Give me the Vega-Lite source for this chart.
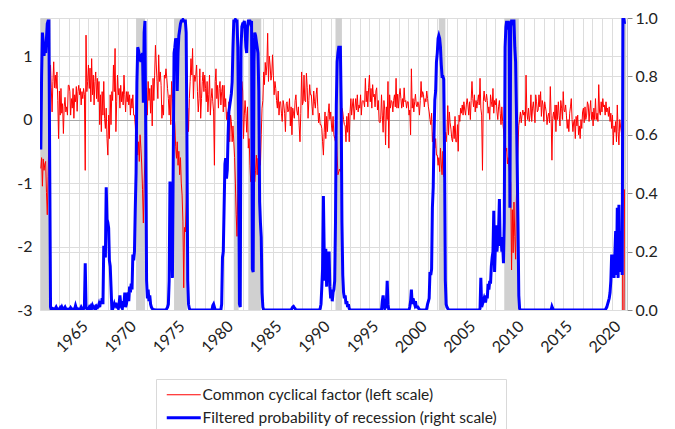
{
"$schema": "https://vega.github.io/schema/vega-lite/v6.json",
"width": 587, "height": 292,
"autosize": {"type": "none"},
"padding": {"left": 40, "top": 18, "right": 48, "bottom": 119},
"background": "white",
"config": {"view": {"stroke": null}, "font": "Lato", "axis": {"labelFont": "Lato", "labelColor": "#222222", "title": null}},
"datasets": {
"rec": [{"s":"1960-02-01","e":"1961-01-05"},{"s":"1969-12-01","e":"1970-11-01"},{"s":"1973-11-01","e":"1975-03-01"},{"s":"1980-01-01","e":"1980-07-01"},{"s":"1981-07-01","e":"1982-11-01"},{"s":"1990-07-01","e":"1991-03-01"},{"s":"2001-03-01","e":"2001-11-01"},{"s":"2007-12-01","e":"2009-06-01"},{"s":"2020-02-01","e":"2020-07-01"}],
"m": [
{"d":"1960-02","c":-0.77,"p":0.55},{"d":"1960-03","c":-0.6,"p":0.8},{"d":"1960-04","c":-1.05,"p":0.95},{"d":"1960-05","c":-0.62,"p":0.92},{"d":"1960-06","c":-0.8,"p":0.87},{"d":"1960-07","c":-0.7,"p":0.9},{"d":"1960-08","c":-0.66,"p":0.88},{"d":"1960-09","c":-1.15,"p":0.93},{"d":"1960-10","c":-1.5,"p":0.98},{"d":"1960-11","c":-0.9,"p":0.99},{"d":"1960-12","c":-0.3,"p":0.99},
{"d":"1961-01","c":0.3,"p":0.5},{"d":"1961-02","c":0.86,"p":0.01},{"d":"1961-03","c":0.5,"p":0},{"d":"1961-04","c":0.12,"p":0.002},{"d":"1961-05","c":0.6,"p":0.005},{"d":"1961-06","c":0.91,"p":0.003},{"d":"1961-07","c":0.5,"p":0.002},{"d":"1961-08","c":0.7,"p":0.005},{"d":"1961-09","c":0.49,"p":0.01},{"d":"1961-10","c":0.75,"p":0.004},{"d":"1961-11","c":0.3,"p":0.002},{"d":"1961-12","c":-0.3,"p":0.003},
{"d":"1962-01","c":0.45,"p":0.003},{"d":"1962-02","c":0.07,"p":0.008},{"d":"1962-03","c":0.49,"p":0.004},{"d":"1962-04","c":0.1,"p":0.01},{"d":"1962-05","c":0.25,"p":0.003},{"d":"1962-06","c":-0.22,"p":0.002},{"d":"1962-07","c":0.2,"p":0.006},{"d":"1962-08","c":0.35,"p":0.01},{"d":"1962-09","c":0.12,"p":0.004},{"d":"1962-10","c":0.2,"p":0.003},{"d":"1962-11","c":0.07,"p":0.002},{"d":"1962-12","c":0.54,"p":0.003},
{"d":"1963-01","c":0.54,"p":0.002},{"d":"1963-02","c":0.44,"p":0.003},{"d":"1963-03","c":0.07,"p":0.008},{"d":"1963-04","c":0.33,"p":0.004},{"d":"1963-05","c":0.18,"p":0.002},{"d":"1963-06","c":0.49,"p":0.003},{"d":"1963-07","c":0.02,"p":0.002},{"d":"1963-08","c":0.39,"p":0.004},{"d":"1963-09","c":0.28,"p":0.015},{"d":"1963-10","c":0.52,"p":0.006},{"d":"1963-11","c":0.13,"p":0.003},{"d":"1963-12","c":0.44,"p":0.004},
{"d":"1964-01","c":0.54,"p":0.003},{"d":"1964-02","c":0.39,"p":0.002},{"d":"1964-03","c":0.49,"p":0.004},{"d":"1964-04","c":0.23,"p":0.01},{"d":"1964-05","c":0.44,"p":0.005},{"d":"1964-06","c":0.33,"p":0.003},{"d":"1964-07","c":0.49,"p":0.004},{"d":"1964-08","c":0.39,"p":0.01},{"d":"1964-09","c":-0.8,"p":0.16},{"d":"1964-10","c":1.33,"p":0.01},{"d":"1964-11","c":0.44,"p":0.004},{"d":"1964-12","c":0.6,"p":0.003},
{"d":"1965-01","c":0.86,"p":0.004},{"d":"1965-02","c":0.49,"p":0.01},{"d":"1965-03","c":0.81,"p":0.006},{"d":"1965-04","c":0.28,"p":0.012},{"d":"1965-05","c":0.96,"p":0.005},{"d":"1965-06","c":0.39,"p":0.015},{"d":"1965-07","c":0.7,"p":0.008},{"d":"1965-08","c":0.23,"p":0.006},{"d":"1965-09","c":0.6,"p":0.01},{"d":"1965-10","c":0.75,"p":0.004},{"d":"1965-11","c":0.33,"p":0.012},{"d":"1965-12","c":0.65,"p":0.008},
{"d":"1966-01","c":0.28,"p":0.01},{"d":"1966-02","c":0.6,"p":0.02},{"d":"1966-03","c":-0.08,"p":0.01},{"d":"1966-04","c":0.39,"p":0.03},{"d":"1966-05","c":-0.19,"p":0.02},{"d":"1966-06","c":0.44,"p":0.04},{"d":"1966-07","c":0.07,"p":0.02},{"d":"1966-08","c":0.6,"p":0.22},{"d":"1966-09","c":0.02,"p":0.2},{"d":"1966-10","c":-0.14,"p":0.18},{"d":"1966-11","c":0.18,"p":0.42},{"d":"1966-12","c":-0.3,"p":0.31},
{"d":"1967-01","c":-0.56,"p":0.3},{"d":"1967-02","c":0.07,"p":0.28},{"d":"1967-03","c":-0.3,"p":0.17},{"d":"1967-04","c":0.39,"p":0.15},{"d":"1967-05","c":-0.08,"p":0.08},{"d":"1967-06","c":0.44,"p":0.004},{"d":"1967-07","c":0.3,"p":0.003},{"d":"1967-08","c":0.86,"p":0.01},{"d":"1967-09","c":0.44,"p":0.02},{"d":"1967-10","c":1.12,"p":0.01},{"d":"1967-11","c":-0.19,"p":0.025},{"d":"1967-12","c":0.28,"p":0.01},
{"d":"1968-01","c":0.7,"p":0.01},{"d":"1968-02","c":0.39,"p":0.005},{"d":"1968-03","c":0.49,"p":0.02},{"d":"1968-04","c":0.18,"p":0.05},{"d":"1968-05","c":0.54,"p":0.02},{"d":"1968-06","c":0.28,"p":0.01},{"d":"1968-07","c":0.44,"p":0.005},{"d":"1968-08","c":0.23,"p":0.03},{"d":"1968-09","c":0.7,"p":0.02},{"d":"1968-10","c":0.39,"p":0.06},{"d":"1968-11","c":0.12,"p":0.01},{"d":"1968-12","c":0.44,"p":0.02},
{"d":"1969-01","c":0.28,"p":0.04},{"d":"1969-02","c":0.44,"p":0.06},{"d":"1969-03","c":0.23,"p":0.03},{"d":"1969-04","c":0.39,"p":0.08},{"d":"1969-05","c":0.07,"p":0.06},{"d":"1969-06","c":0.33,"p":0.09},{"d":"1969-07","c":0.18,"p":0.07},{"d":"1969-08","c":0.39,"p":0.19},{"d":"1969-09","c":0.07,"p":0.17},{"d":"1969-10","c":0.07,"p":0.2},{"d":"1969-11","c":-0.1,"p":0.35},{"d":"1969-12","c":-0.35,"p":0.47},
{"d":"1970-01","c":-0.19,"p":0.78},{"d":"1970-02","c":-0.56,"p":0.9},{"d":"1970-03","c":-0.35,"p":0.89},{"d":"1970-04","c":-0.66,"p":0.87},{"d":"1970-05","c":-0.24,"p":0.86},{"d":"1970-06","c":-0.45,"p":0.85},{"d":"1970-07","c":-0.7,"p":0.87},{"d":"1970-08","c":-1.1,"p":0.88},{"d":"1970-09","c":-1.63,"p":0.71},{"d":"1970-10","c":-1.0,"p":0.95},{"d":"1970-11","c":-0.6,"p":0.99},{"d":"1970-12","c":0.2,"p":0.6},
{"d":"1971-01","c":0.5,"p":0.1},{"d":"1971-02","c":0.07,"p":0.04},{"d":"1971-03","c":0.6,"p":0.07},{"d":"1971-04","c":0.3,"p":0.03},{"d":"1971-05","c":0.49,"p":0.05},{"d":"1971-06","c":0.1,"p":0.02},{"d":"1971-07","c":0.54,"p":0.01},{"d":"1971-08","c":-0.1,"p":0.005},{"d":"1971-09","c":0.65,"p":0.002},{"d":"1971-10","c":0.3,"p":0.001},{"d":"1971-11","c":0.7,"p":0.001},{"d":"1971-12","c":1.17,"p":0},
{"d":"1972-01","c":0.86,"p":0},{"d":"1972-02","c":0.6,"p":0},{"d":"1972-03","c":0.33,"p":0},{"d":"1972-04","c":1.02,"p":0},{"d":"1972-05","c":0.6,"p":0},{"d":"1972-06","c":0.75,"p":0},{"d":"1972-07","c":0.54,"p":0},{"d":"1972-08","c":0.02,"p":0},{"d":"1972-09","c":0.23,"p":0},{"d":"1972-10","c":0.07,"p":0},{"d":"1972-11","c":0.7,"p":0},{"d":"1972-12","c":0.65,"p":0},
{"d":"1973-01","c":0.8,"p":0},{"d":"1973-02","c":0.65,"p":0.005},{"d":"1973-03","c":0.49,"p":0.01},{"d":"1973-04","c":0.33,"p":0.02},{"d":"1973-05","c":0.07,"p":0.1},{"d":"1973-06","c":0.39,"p":0.44},{"d":"1973-07","c":-0.08,"p":0.4},{"d":"1973-08","c":0.6,"p":0.25},{"d":"1973-09","c":0.33,"p":0.11},{"d":"1973-10","c":0.18,"p":0.5},{"d":"1973-11","c":0.07,"p":0.88},{"d":"1973-12","c":-0.08,"p":0.9},
{"d":"1974-01","c":-0.43,"p":0.93},{"d":"1974-02","c":-0.61,"p":0.92},{"d":"1974-03","c":-0.35,"p":0.75},{"d":"1974-04","c":-0.72,"p":0.88},{"d":"1974-05","c":-0.5,"p":0.94},{"d":"1974-06","c":-0.87,"p":0.96},{"d":"1974-07","c":-0.6,"p":0.98},{"d":"1974-08","c":-1.0,"p":0.99},{"d":"1974-09","c":-1.19,"p":0.99},{"d":"1974-10","c":-1.6,"p":0.995},{"d":"1974-11","c":-2.65,"p":0.99},{"d":"1974-12","c":-1.7,"p":0.99},
{"d":"1975-01","c":-1.77,"p":0.99},{"d":"1975-02","c":-1.3,"p":0.95},{"d":"1975-03","c":-0.5,"p":0.6},{"d":"1975-04","c":0.18,"p":0.1},{"d":"1975-05","c":-0.19,"p":0.02},{"d":"1975-06","c":0.33,"p":0.005},{"d":"1975-07","c":0.6,"p":0},{"d":"1975-08","c":0.96,"p":0},{"d":"1975-09","c":0.7,"p":0},{"d":"1975-10","c":1.12,"p":0},{"d":"1975-11","c":0.33,"p":0},{"d":"1975-12","c":0.7,"p":0},
{"d":"1976-01","c":0.6,"p":0},{"d":"1976-02","c":0.7,"p":0},{"d":"1976-03","c":0.86,"p":0},{"d":"1976-04","c":0.44,"p":0},{"d":"1976-05","c":0.12,"p":0},{"d":"1976-06","c":0.33,"p":0},{"d":"1976-07","c":0.8,"p":0},{"d":"1976-08","c":0.02,"p":0},{"d":"1976-09","c":0.33,"p":0},{"d":"1976-10","c":0.6,"p":0},{"d":"1976-11","c":0.75,"p":0},{"d":"1976-12","c":0.44,"p":0},
{"d":"1977-01","c":0.7,"p":0},{"d":"1977-02","c":0.49,"p":0},{"d":"1977-03","c":0.28,"p":0},{"d":"1977-04","c":0.6,"p":0},{"d":"1977-05","c":0.12,"p":0},{"d":"1977-06","c":0.39,"p":0},{"d":"1977-07","c":0.7,"p":0},{"d":"1977-08","c":0.07,"p":0},{"d":"1977-09","c":0.33,"p":0},{"d":"1977-10","c":0.49,"p":0},{"d":"1977-11","c":0.28,"p":0.015},{"d":"1977-12","c":0.12,"p":0.02},
{"d":"1978-01","c":-0.72,"p":0.01},{"d":"1978-02","c":0.6,"p":0},{"d":"1978-03","c":0.8,"p":0},{"d":"1978-04","c":0.33,"p":0},{"d":"1978-05","c":0.54,"p":0},{"d":"1978-06","c":0.18,"p":0},{"d":"1978-07","c":0.49,"p":0},{"d":"1978-08","c":0.6,"p":0},{"d":"1978-09","c":0.23,"p":0},{"d":"1978-10","c":0.44,"p":0.02},{"d":"1978-11","c":0.54,"p":0.18},{"d":"1978-12","c":0.12,"p":0.2},
{"d":"1979-01","c":0.54,"p":0.35},{"d":"1979-02","c":0.2,"p":0.5},{"d":"1979-03","c":0.33,"p":0.52},{"d":"1979-04","c":0.0,"p":0.45},{"d":"1979-05","c":0.12,"p":0.48},{"d":"1979-06","c":-0.03,"p":0.6},{"d":"1979-07","c":0.28,"p":0.68},{"d":"1979-08","c":-0.35,"p":0.7},{"d":"1979-09","c":0.07,"p":0.72},{"d":"1979-10","c":-0.03,"p":0.74},{"d":"1979-11","c":-0.35,"p":0.78},{"d":"1979-12","c":-0.1,"p":0.9},
{"d":"1980-01","c":-0.35,"p":0.99},{"d":"1980-02","c":-0.6,"p":0.99},{"d":"1980-03","c":-1.0,"p":0.995},{"d":"1980-04","c":-1.5,"p":0.99},{"d":"1980-05","c":-1.84,"p":0.99},{"d":"1980-06","c":-1.1,"p":0.9},{"d":"1980-07","c":-0.45,"p":0.6},{"d":"1980-08","c":0.2,"p":0.02},{"d":"1980-09","c":0.91,"p":0.01},{"d":"1980-10","c":0.3,"p":0.9},{"d":"1980-11","c":0.6,"p":0.97},{"d":"1980-12","c":0.45,"p":0.98},
{"d":"1981-01","c":-0.3,"p":0.98},{"d":"1981-02","c":0.07,"p":0.99},{"d":"1981-03","c":0.3,"p":0.96},{"d":"1981-04","c":0.1,"p":0.9},{"d":"1981-05","c":-0.2,"p":0.88},{"d":"1981-06","c":0.2,"p":0.97},{"d":"1981-07","c":-0.45,"p":0.99},{"d":"1981-08","c":-0.3,"p":0.99},{"d":"1981-09","c":-0.72,"p":0.99},{"d":"1981-10","c":-0.98,"p":0.98},{"d":"1981-11","c":-0.85,"p":0.99},{"d":"1981-12","c":-0.95,"p":0.14},
{"d":"1982-01","c":-1.1,"p":0.13},{"d":"1982-02","c":-0.75,"p":0.85},{"d":"1982-03","c":-0.98,"p":0.95},{"d":"1982-04","c":-0.8,"p":0.94},{"d":"1982-05","c":-0.56,"p":0.92},{"d":"1982-06","c":-0.87,"p":0.9},{"d":"1982-07","c":-0.61,"p":0.88},{"d":"1982-08","c":-0.92,"p":0.75},{"d":"1982-09","c":-0.45,"p":0.37},{"d":"1982-10","c":-0.72,"p":0.3},{"d":"1982-11","c":-0.24,"p":0.25},{"d":"1982-12","c":0.18,"p":0.06},
{"d":"1983-01","c":0.3,"p":0.01},{"d":"1983-02","c":0.75,"p":0},{"d":"1983-03","c":0.55,"p":0},{"d":"1983-04","c":0.9,"p":0},{"d":"1983-05","c":0.7,"p":0},{"d":"1983-06","c":0.86,"p":0},{"d":"1983-07","c":1.36,"p":0},{"d":"1983-08","c":0.6,"p":0},{"d":"1983-09","c":1.0,"p":0},{"d":"1983-10","c":0.86,"p":0},{"d":"1983-11","c":0.62,"p":0},{"d":"1983-12","c":0.7,"p":0},
{"d":"1984-01","c":1.02,"p":0},{"d":"1984-02","c":0.7,"p":0},{"d":"1984-03","c":0.39,"p":0},{"d":"1984-04","c":0.6,"p":0},{"d":"1984-05","c":0.49,"p":0},{"d":"1984-06","c":0.3,"p":0},{"d":"1984-07","c":0.18,"p":0},{"d":"1984-08","c":0.45,"p":0},{"d":"1984-09","c":0.07,"p":0},{"d":"1984-10","c":0.28,"p":0},{"d":"1984-11","c":0.28,"p":0},{"d":"1984-12","c":0.1,"p":0},
{"d":"1985-01","c":-0.03,"p":0},{"d":"1985-02","c":0.3,"p":0},{"d":"1985-03","c":0.23,"p":0},{"d":"1985-04","c":0.1,"p":0},{"d":"1985-05","c":-0.19,"p":0},{"d":"1985-06","c":0.25,"p":0},{"d":"1985-07","c":0.28,"p":0},{"d":"1985-08","c":0.12,"p":0},{"d":"1985-09","c":0.15,"p":0},{"d":"1985-10","c":0.33,"p":0},{"d":"1985-11","c":-0.1,"p":0},{"d":"1985-12","c":0.2,"p":0},
{"d":"1986-01","c":-0.24,"p":0.005},{"d":"1986-02","c":0.18,"p":0.01},{"d":"1986-03","c":0.1,"p":0.012},{"d":"1986-04","c":0.02,"p":0.008},{"d":"1986-05","c":0.3,"p":0.005},{"d":"1986-06","c":0.39,"p":0},{"d":"1986-07","c":0.15,"p":0},{"d":"1986-08","c":0.07,"p":0},{"d":"1986-09","c":0.2,"p":0},{"d":"1986-10","c":-0.1,"p":0},{"d":"1986-11","c":-0.35,"p":0},{"d":"1986-12","c":0.1,"p":0},
{"d":"1987-01","c":0.75,"p":0},{"d":"1987-02","c":0.23,"p":0},{"d":"1987-03","c":0.28,"p":0},{"d":"1987-04","c":0.7,"p":0},{"d":"1987-05","c":0.3,"p":0},{"d":"1987-06","c":0.28,"p":0},{"d":"1987-07","c":0.73,"p":0},{"d":"1987-08","c":0.5,"p":0},{"d":"1987-09","c":0.02,"p":0},{"d":"1987-10","c":0.3,"p":0},{"d":"1987-11","c":0.55,"p":0},{"d":"1987-12","c":0.39,"p":0},
{"d":"1988-01","c":0.39,"p":0},{"d":"1988-02","c":0.2,"p":0},{"d":"1988-03","c":0.07,"p":0},{"d":"1988-04","c":0.45,"p":0},{"d":"1988-05","c":0.28,"p":0},{"d":"1988-06","c":0.18,"p":0},{"d":"1988-07","c":0.39,"p":0},{"d":"1988-08","c":0.5,"p":0},{"d":"1988-09","c":0.2,"p":0},{"d":"1988-10","c":-0.05,"p":0},{"d":"1988-11","c":0.1,"p":0},{"d":"1988-12","c":-0.08,"p":0.005},
{"d":"1989-01","c":-0.08,"p":0.02},{"d":"1989-02","c":-0.14,"p":0.08},{"d":"1989-03","c":-0.35,"p":0.14},{"d":"1989-04","c":-0.56,"p":0.39},{"d":"1989-05","c":-0.2,"p":0.2},{"d":"1989-06","c":0.12,"p":0.1},{"d":"1989-07","c":-0.3,"p":0.21},{"d":"1989-08","c":0.05,"p":0.08},{"d":"1989-09","c":-0.19,"p":0.2},{"d":"1989-10","c":0.1,"p":0.1},{"d":"1989-11","c":0.25,"p":0.2},{"d":"1989-12","c":0.0,"p":0.08},
{"d":"1990-01","c":0.12,"p":0.04},{"d":"1990-02","c":-0.1,"p":0.07},{"d":"1990-03","c":-0.19,"p":0.03},{"d":"1990-04","c":0.05,"p":0.06},{"d":"1990-05","c":-0.24,"p":0.07},{"d":"1990-06","c":-0.3,"p":0.1},{"d":"1990-07","c":-0.35,"p":0.3},{"d":"1990-08","c":-0.2,"p":0.7},{"d":"1990-09","c":-0.56,"p":0.85},{"d":"1990-10","c":-0.87,"p":0.88},{"d":"1990-11","c":-0.82,"p":0.9},{"d":"1990-12","c":-0.78,"p":0.9},
{"d":"1991-01","c":-0.82,"p":0.9},{"d":"1991-02","c":-0.7,"p":0.7},{"d":"1991-03","c":0.18,"p":0.3},{"d":"1991-04","c":0.12,"p":0.12},{"d":"1991-05","c":0.0,"p":0.06},{"d":"1991-06","c":-0.08,"p":0.04},{"d":"1991-07","c":-0.1,"p":0.05},{"d":"1991-08","c":-0.35,"p":0.02},{"d":"1991-09","c":0.05,"p":0.03},{"d":"1991-10","c":-0.2,"p":0.01},{"d":"1991-11","c":0.1,"p":0.02},{"d":"1991-12","c":-0.35,"p":0.005},
{"d":"1992-01","c":0.12,"p":0},{"d":"1992-02","c":0.33,"p":0},{"d":"1992-03","c":0.07,"p":0},{"d":"1992-04","c":0.23,"p":0},{"d":"1992-05","c":0.33,"p":0},{"d":"1992-06","c":0.0,"p":0},{"d":"1992-07","c":0.18,"p":0},{"d":"1992-08","c":0.33,"p":0},{"d":"1992-09","c":0.15,"p":0},{"d":"1992-10","c":0.39,"p":0},{"d":"1992-11","c":0.12,"p":0},{"d":"1992-12","c":0.23,"p":0},
{"d":"1993-01","c":0.18,"p":0},{"d":"1993-02","c":0.39,"p":0},{"d":"1993-03","c":0.07,"p":0},{"d":"1993-04","c":0.28,"p":0},{"d":"1993-05","c":0.3,"p":0},{"d":"1993-06","c":0.28,"p":0},{"d":"1993-07","c":0.2,"p":0},{"d":"1993-08","c":0.65,"p":0},{"d":"1993-09","c":0.28,"p":0},{"d":"1993-10","c":0.45,"p":0},{"d":"1993-11","c":0.2,"p":0},{"d":"1993-12","c":0.5,"p":0},
{"d":"1994-01","c":0.7,"p":0},{"d":"1994-02","c":0.28,"p":0},{"d":"1994-03","c":0.49,"p":0},{"d":"1994-04","c":0.18,"p":0},{"d":"1994-05","c":0.55,"p":0},{"d":"1994-06","c":0.36,"p":0},{"d":"1994-07","c":0.4,"p":0},{"d":"1994-08","c":0.2,"p":0},{"d":"1994-09","c":0.45,"p":0},{"d":"1994-10","c":0.5,"p":0},{"d":"1994-11","c":0.15,"p":0},{"d":"1994-12","c":0.3,"p":0},
{"d":"1995-01","c":-0.03,"p":0},{"d":"1995-02","c":-0.05,"p":0},{"d":"1995-03","c":0.0,"p":0},{"d":"1995-04","c":0.39,"p":0},{"d":"1995-05","c":0.07,"p":0.03},{"d":"1995-06","c":-0.2,"p":0.05},{"d":"1995-07","c":0.3,"p":0.02},{"d":"1995-08","c":0.15,"p":0.005},{"d":"1995-09","c":-0.4,"p":0.01},{"d":"1995-10","c":0.2,"p":0.02},{"d":"1995-11","c":0.0,"p":0.1},{"d":"1995-12","c":0.6,"p":0.02},
{"d":"1996-01","c":-0.45,"p":0},{"d":"1996-02","c":0.39,"p":0},{"d":"1996-03","c":0.18,"p":0},{"d":"1996-04","c":0.3,"p":0},{"d":"1996-05","c":0.28,"p":0},{"d":"1996-06","c":0.12,"p":0},{"d":"1996-07","c":0.3,"p":0},{"d":"1996-08","c":0.39,"p":0},{"d":"1996-09","c":0.2,"p":0},{"d":"1996-10","c":0.65,"p":0},{"d":"1996-11","c":0.18,"p":0},{"d":"1996-12","c":0.4,"p":0},
{"d":"1997-01","c":0.18,"p":0},{"d":"1997-02","c":0.39,"p":0},{"d":"1997-03","c":0.49,"p":0},{"d":"1997-04","c":0.33,"p":0},{"d":"1997-05","c":0.18,"p":0},{"d":"1997-06","c":0.33,"p":0},{"d":"1997-07","c":0.2,"p":0},{"d":"1997-08","c":0.5,"p":0},{"d":"1997-09","c":0.28,"p":0},{"d":"1997-10","c":0.3,"p":0},{"d":"1997-11","c":0.18,"p":0},{"d":"1997-12","c":0.28,"p":0},
{"d":"1998-01","c":0.28,"p":0},{"d":"1998-02","c":0.07,"p":0},{"d":"1998-03","c":0.15,"p":0.01},{"d":"1998-04","c":-0.24,"p":0.03},{"d":"1998-05","c":0.8,"p":0.07},{"d":"1998-06","c":0.18,"p":0.02},{"d":"1998-07","c":0.33,"p":0.04},{"d":"1998-08","c":0.12,"p":0.03},{"d":"1998-09","c":0.28,"p":0.02},{"d":"1998-10","c":0.4,"p":0.03},{"d":"1998-11","c":0.23,"p":0.01},{"d":"1998-12","c":0.2,"p":0.01},
{"d":"1999-01","c":0.28,"p":0.01},{"d":"1999-02","c":0.23,"p":0.005},{"d":"1999-03","c":0.07,"p":0.002},{"d":"1999-04","c":0.3,"p":0},{"d":"1999-05","c":0.6,"p":0},{"d":"1999-06","c":0.35,"p":0},{"d":"1999-07","c":0.44,"p":0},{"d":"1999-08","c":0.39,"p":0},{"d":"1999-09","c":0.2,"p":0},{"d":"1999-10","c":0.33,"p":0},{"d":"1999-11","c":0.28,"p":0},{"d":"1999-12","c":0.45,"p":0.005},
{"d":"2000-01","c":0.33,"p":0.02},{"d":"2000-02","c":0.2,"p":0.03},{"d":"2000-03","c":0.12,"p":0.04},{"d":"2000-04","c":0.0,"p":0.13},{"d":"2000-05","c":-0.08,"p":0.12},{"d":"2000-06","c":0.1,"p":0.14},{"d":"2000-07","c":-0.35,"p":0.35},{"d":"2000-08","c":-0.2,"p":0.42},{"d":"2000-09","c":-0.19,"p":0.6},{"d":"2000-10","c":-0.45,"p":0.72},{"d":"2000-11","c":-0.3,"p":0.75},{"d":"2000-12","c":-0.56,"p":0.85},
{"d":"2001-01","c":-0.56,"p":0.88},{"d":"2001-02","c":-0.72,"p":0.93},{"d":"2001-03","c":-0.6,"p":0.94},{"d":"2001-04","c":-0.82,"p":0.93},{"d":"2001-05","c":-0.45,"p":0.9},{"d":"2001-06","c":-0.7,"p":0.84},{"d":"2001-07","c":-0.87,"p":0.8},{"d":"2001-08","c":-0.5,"p":0.8},{"d":"2001-09","c":-0.9,"p":0.79},{"d":"2001-10","c":-0.6,"p":0.55},{"d":"2001-11","c":-0.2,"p":0.1},{"d":"2001-12","c":-0.35,"p":0.02},
{"d":"2002-01","c":-0.19,"p":0.01},{"d":"2002-02","c":0.22,"p":0.005},{"d":"2002-03","c":-0.24,"p":0},{"d":"2002-04","c":0.12,"p":0},{"d":"2002-05","c":-0.05,"p":0},{"d":"2002-06","c":-0.15,"p":0},{"d":"2002-07","c":-0.3,"p":0},{"d":"2002-08","c":-0.35,"p":0},{"d":"2002-09","c":-0.1,"p":0},{"d":"2002-10","c":-0.3,"p":0},{"d":"2002-11","c":0.05,"p":0},{"d":"2002-12","c":-0.35,"p":0},
{"d":"2003-01","c":-0.35,"p":0},{"d":"2003-02","c":-0.08,"p":0},{"d":"2003-03","c":-0.5,"p":0},{"d":"2003-04","c":0.07,"p":0},{"d":"2003-05","c":-0.03,"p":0},{"d":"2003-06","c":0.18,"p":0},{"d":"2003-07","c":0.1,"p":0},{"d":"2003-08","c":0.23,"p":0},{"d":"2003-09","c":0.07,"p":0},{"d":"2003-10","c":0.28,"p":0},{"d":"2003-11","c":0.15,"p":0},{"d":"2003-12","c":0.07,"p":0},
{"d":"2004-01","c":0.23,"p":0},{"d":"2004-02","c":0.33,"p":0},{"d":"2004-03","c":0.23,"p":0},{"d":"2004-04","c":0.07,"p":0},{"d":"2004-05","c":0.28,"p":0},{"d":"2004-06","c":0.0,"p":0},{"d":"2004-07","c":0.3,"p":0},{"d":"2004-08","c":0.6,"p":0},{"d":"2004-09","c":0.33,"p":0},{"d":"2004-10","c":0.2,"p":0},{"d":"2004-11","c":0.39,"p":0},{"d":"2004-12","c":0.12,"p":0},
{"d":"2005-01","c":0.3,"p":0},{"d":"2005-02","c":0.18,"p":0},{"d":"2005-03","c":0.28,"p":0},{"d":"2005-04","c":0.39,"p":0},{"d":"2005-05","c":0.23,"p":0},{"d":"2005-06","c":0.65,"p":0.005},{"d":"2005-07","c":0.18,"p":0.11},{"d":"2005-08","c":0.07,"p":0.01},{"d":"2005-09","c":-0.8,"p":0.02},{"d":"2005-10","c":0.28,"p":0.03},{"d":"2005-11","c":0.45,"p":0.04},{"d":"2005-12","c":0.3,"p":0.03},
{"d":"2006-01","c":0.28,"p":0.03},{"d":"2006-02","c":0.4,"p":0.05},{"d":"2006-03","c":0.3,"p":0.04},{"d":"2006-04","c":0.1,"p":0.09},{"d":"2006-05","c":0.2,"p":0.07},{"d":"2006-06","c":0.0,"p":0.1},{"d":"2006-07","c":0.39,"p":0.09},{"d":"2006-08","c":0.28,"p":0.15},{"d":"2006-09","c":0.2,"p":0.18},{"d":"2006-10","c":0.49,"p":0.2},{"d":"2006-11","c":0.1,"p":0.34},{"d":"2006-12","c":0.3,"p":0.13},
{"d":"2007-01","c":0.23,"p":0.22},{"d":"2007-02","c":0.33,"p":0.29},{"d":"2007-03","c":0.12,"p":0.2},{"d":"2007-04","c":0.0,"p":0.24},{"d":"2007-05","c":0.2,"p":0.27},{"d":"2007-06","c":0.3,"p":0.38},{"d":"2007-07","c":0.1,"p":0.22},{"d":"2007-08","c":-0.08,"p":0.25},{"d":"2007-09","c":0.2,"p":0.2},{"d":"2007-10","c":-0.03,"p":0.23},{"d":"2007-11","c":-0.15,"p":0.16},{"d":"2007-12","c":-0.3,"p":0.3},
{"d":"2008-01","c":-0.3,"p":0.9},{"d":"2008-02","c":-0.5,"p":0.97},{"d":"2008-03","c":-0.45,"p":0.99},{"d":"2008-04","c":-0.7,"p":0.96},{"d":"2008-05","c":-0.6,"p":0.99},{"d":"2008-06","c":-0.75,"p":0.97},{"d":"2008-07","c":-0.9,"p":0.35},{"d":"2008-08","c":-1.0,"p":0.97},{"d":"2008-09","c":-2.37,"p":0.99},{"d":"2008-10","c":-1.42,"p":0.99},{"d":"2008-11","c":-2.1,"p":0.99},{"d":"2008-12","c":-1.3,"p":0.99},
{"d":"2009-01","c":-1.84,"p":0.9},{"d":"2009-02","c":-2.2,"p":0.85},{"d":"2009-03","c":-1.27,"p":0.7},{"d":"2009-04","c":-0.79,"p":0.5},{"d":"2009-05","c":-0.45,"p":0.3},{"d":"2009-06","c":-0.09,"p":0.05},{"d":"2009-07","c":0.0,"p":0.005},{"d":"2009-08","c":0.12,"p":0},{"d":"2009-09","c":-0.05,"p":0},{"d":"2009-10","c":0.07,"p":0},{"d":"2009-11","c":0.15,"p":0},{"d":"2009-12","c":0.07,"p":0},
{"d":"2010-01","c":0.12,"p":0},{"d":"2010-02","c":-0.1,"p":0},{"d":"2010-03","c":0.7,"p":0},{"d":"2010-04","c":0.12,"p":0},{"d":"2010-05","c":0.0,"p":0},{"d":"2010-06","c":0.18,"p":0},{"d":"2010-07","c":-0.03,"p":0},{"d":"2010-08","c":0.07,"p":0},{"d":"2010-09","c":0.39,"p":0},{"d":"2010-10","c":-0.03,"p":0},{"d":"2010-11","c":0.18,"p":0},{"d":"2010-12","c":0.28,"p":0},
{"d":"2011-01","c":0.12,"p":0},{"d":"2011-02","c":-0.05,"p":0},{"d":"2011-03","c":0.39,"p":0},{"d":"2011-04","c":0.28,"p":0},{"d":"2011-05","c":0.12,"p":0},{"d":"2011-06","c":0.15,"p":0},{"d":"2011-07","c":0.39,"p":0},{"d":"2011-08","c":0.2,"p":0},{"d":"2011-09","c":0.44,"p":0},{"d":"2011-10","c":0.05,"p":0},{"d":"2011-11","c":0.3,"p":0},{"d":"2011-12","c":0.23,"p":0},
{"d":"2012-01","c":-0.03,"p":0},{"d":"2012-02","c":0.28,"p":0},{"d":"2012-03","c":0.2,"p":0},{"d":"2012-04","c":0.12,"p":0},{"d":"2012-05","c":-0.08,"p":0},{"d":"2012-06","c":0.05,"p":0},{"d":"2012-07","c":0.1,"p":0},{"d":"2012-08","c":-0.05,"p":0},{"d":"2012-09","c":0.52,"p":0},{"d":"2012-10","c":0.07,"p":0},{"d":"2012-11","c":-0.64,"p":0.012},{"d":"2012-12","c":0.02,"p":0.005},
{"d":"2013-01","c":0.12,"p":0},{"d":"2013-02","c":0.0,"p":0},{"d":"2013-03","c":0.23,"p":0},{"d":"2013-04","c":-0.19,"p":0},{"d":"2013-05","c":0.23,"p":0},{"d":"2013-06","c":0.0,"p":0},{"d":"2013-07","c":0.28,"p":0},{"d":"2013-08","c":0.07,"p":0},{"d":"2013-09","c":-0.1,"p":0},{"d":"2013-10","c":0.3,"p":0},{"d":"2013-11","c":0.18,"p":0},{"d":"2013-12","c":0.0,"p":0},
{"d":"2014-01","c":0.44,"p":0},{"d":"2014-02","c":0.15,"p":0},{"d":"2014-03","c":0.12,"p":0},{"d":"2014-04","c":0.23,"p":0},{"d":"2014-05","c":0.07,"p":0},{"d":"2014-06","c":-0.14,"p":0},{"d":"2014-07","c":0.0,"p":0},{"d":"2014-08","c":-0.19,"p":0},{"d":"2014-09","c":0.1,"p":0},{"d":"2014-10","c":0.2,"p":0},{"d":"2014-11","c":0.33,"p":0},{"d":"2014-12","c":0.0,"p":0},
{"d":"2015-01","c":-0.19,"p":0},{"d":"2015-02","c":-0.03,"p":0},{"d":"2015-03","c":0.0,"p":0},{"d":"2015-04","c":-0.3,"p":0},{"d":"2015-05","c":0.05,"p":0},{"d":"2015-06","c":-0.1,"p":0},{"d":"2015-07","c":0.07,"p":0},{"d":"2015-08","c":-0.24,"p":0},{"d":"2015-09","c":-0.1,"p":0},{"d":"2015-10","c":-0.3,"p":0},{"d":"2015-11","c":0.0,"p":0},{"d":"2015-12","c":-0.14,"p":0},
{"d":"2016-01","c":0.12,"p":0},{"d":"2016-02","c":0.18,"p":0},{"d":"2016-03","c":-0.05,"p":0},{"d":"2016-04","c":0.2,"p":0},{"d":"2016-05","c":0.0,"p":0},{"d":"2016-06","c":0.07,"p":0},{"d":"2016-07","c":0.28,"p":0},{"d":"2016-08","c":0.23,"p":0},{"d":"2016-09","c":-0.03,"p":0},{"d":"2016-10","c":0.15,"p":0},{"d":"2016-11","c":0.3,"p":0},{"d":"2016-12","c":0.0,"p":0},
{"d":"2017-01","c":0.12,"p":0},{"d":"2017-02","c":-0.1,"p":0},{"d":"2017-03","c":0.18,"p":0},{"d":"2017-04","c":0.0,"p":0},{"d":"2017-05","c":0.33,"p":0},{"d":"2017-06","c":0.0,"p":0},{"d":"2017-07","c":0.1,"p":0},{"d":"2017-08","c":-0.03,"p":0},{"d":"2017-09","c":0.55,"p":0},{"d":"2017-10","c":0.12,"p":0},{"d":"2017-11","c":0.07,"p":0},{"d":"2017-12","c":0.28,"p":0},
{"d":"2018-01","c":0.12,"p":0},{"d":"2018-02","c":0.33,"p":0},{"d":"2018-03","c":0.2,"p":0},{"d":"2018-04","c":0.23,"p":0},{"d":"2018-05","c":0.07,"p":0},{"d":"2018-06","c":0.28,"p":0.005},{"d":"2018-07","c":0.12,"p":0.01},{"d":"2018-08","c":0.18,"p":0.02},{"d":"2018-09","c":0.05,"p":0.03},{"d":"2018-10","c":0.2,"p":0.04},{"d":"2018-11","c":-0.03,"p":0.06},{"d":"2018-12","c":0.1,"p":0.1},
{"d":"2019-01","c":-0.14,"p":0.19},{"d":"2019-02","c":0.07,"p":0.12},{"d":"2019-03","c":-0.4,"p":0.19},{"d":"2019-04","c":-0.1,"p":0.11},{"d":"2019-05","c":-0.2,"p":0.19},{"d":"2019-06","c":-0.03,"p":0.27},{"d":"2019-07","c":-0.35,"p":0.12},{"d":"2019-08","c":0.23,"p":0.35},{"d":"2019-09","c":-0.19,"p":0.11},{"d":"2019-10","c":-0.4,"p":0.36},{"d":"2019-11","c":0.0,"p":0.13},{"d":"2019-12","c":-0.1,"p":0.27},
{"d":"2020-01","c":-0.2,"p":0.2},{"d":"2020-02","c":-0.3,"p":0.12},{"d":"2020-03","c":-4,"p":1.0},{"d":"2020-04","c":-4,"p":1.0},{"d":"2020-05","c":-1.1,"p":0.98}
]},
"layer": [
{"data": {"name": "rec"},
 "mark": {"type": "rect", "color": "#d0d0d0"},
 "encoding": {
  "x": {"field": "s", "type": "temporal",
   "scale": {"domain": [{"year": 1960, "month": 1, "date": 1}, {"year": 2020, "month": 8, "date": 1}]},
   "axis": {"title": null, "tickCount": {"interval": "year", "step": 1}, "grid": true, "gridColor": "#dddddd", "ticks": false, "domain": false,
    "labelAngle": -45, "labelAlign": "right", "labelBaseline": "alphabetic", "labelFontSize": 16, "labelPadding": 17, "labelOverlap": false, "labelBound": false, "labelFlush": false,
    "labelExpr": "year(datum.value) % 5 === 0 && year(datum.value) > 1960 ? timeFormat(datum.value, '%Y') : ''"}},
  "x2": {"field": "e"}}},
{"data": {"name": "m"},
 "transform": [{"fold": ["c"], "as": ["k", "v"]}],
 "mark": {"type": "line", "clip": true},
 "encoding": {
  "x": {"field": "d", "type": "temporal", "axis": {"title": null}},
  "y": {"field": "v", "type": "quantitative", "scale": {"domain": [-3, 1.6], "nice": false, "zero": false},
   "axis": {"title": null, "orient": "left", "values": [-3, -2, -1, 0, 1], "grid": true,
    "gridColor": {"condition": {"test": "datum.value === 0", "value": "#a8a8a8"}, "value": "#dddddd"},
    "ticks": false, "domain": false, "labelFontSize": 16, "labelPadding": 8, "labelExpr": "toString(datum.value)"}},
  "color": {"field": "k", "type": "nominal", "scale": {"domain": ["c", "p"], "range": ["#ff0000", "#0000ff"]},
   "legend": {"title": null, "orient": "none", "legendX": 116, "legendY": 361, "direction": "vertical",
    "symbolType": "M-1,0H5.8", "symbolSize": 100, "labelFontSize": 15.5, "labelFont": "Lato", "labelColor": "#222222",
    "strokeColor": "#d9d9d9", "fillColor": "white", "padding": 8, "rowPadding": 6, "labelOffset": 23, "labelLimit": 400,
    "labelExpr": "datum.value === 'c' ? 'Common cyclical factor (left scale)' : 'Filtered probability of recession (right scale)'"}},
  "strokeWidth": {"field": "k", "type": "nominal", "scale": {"domain": ["c", "p"], "range": [1, 3]},
   "legend": {"title": null, "orient": "none", "legendX": 116, "legendY": 361, "direction": "vertical",
    "symbolType": "M-1,0H5.8", "symbolSize": 100, "labelFontSize": 15.5, "labelFont": "Lato", "labelColor": "#222222",
    "strokeColor": "#d9d9d9", "fillColor": "white", "padding": 8, "rowPadding": 6, "labelOffset": 23, "labelLimit": 400,
    "labelExpr": "datum.value === 'c' ? 'Common cyclical factor (left scale)' : 'Filtered probability of recession (right scale)'"}}}},
{"data": {"name": "m"},
 "transform": [{"fold": ["p"], "as": ["k", "v"]}],
 "mark": {"type": "line", "clip": true},
 "encoding": {
  "x": {"field": "d", "type": "temporal", "axis": {"title": null}},
  "y": {"field": "v", "type": "quantitative", "scale": {"domain": [0, 1], "nice": false},
   "axis": {"title": null, "orient": "right", "values": [0, 0.2, 0.4, 0.6, 0.8, 1], "grid": true, "gridColor": "#dddddd",
    "ticks": true, "tickSize": 5, "tickColor": "#888888", "domain": true, "domainColor": "#c8c8c8",
    "labelFontSize": 16, "labelPadding": 3, "format": ".1f"}},
  "color": {"field": "k", "type": "nominal"},
  "strokeWidth": {"field": "k", "type": "nominal"}}}
],
"resolve": {"scale": {"y": "independent"}}
}
